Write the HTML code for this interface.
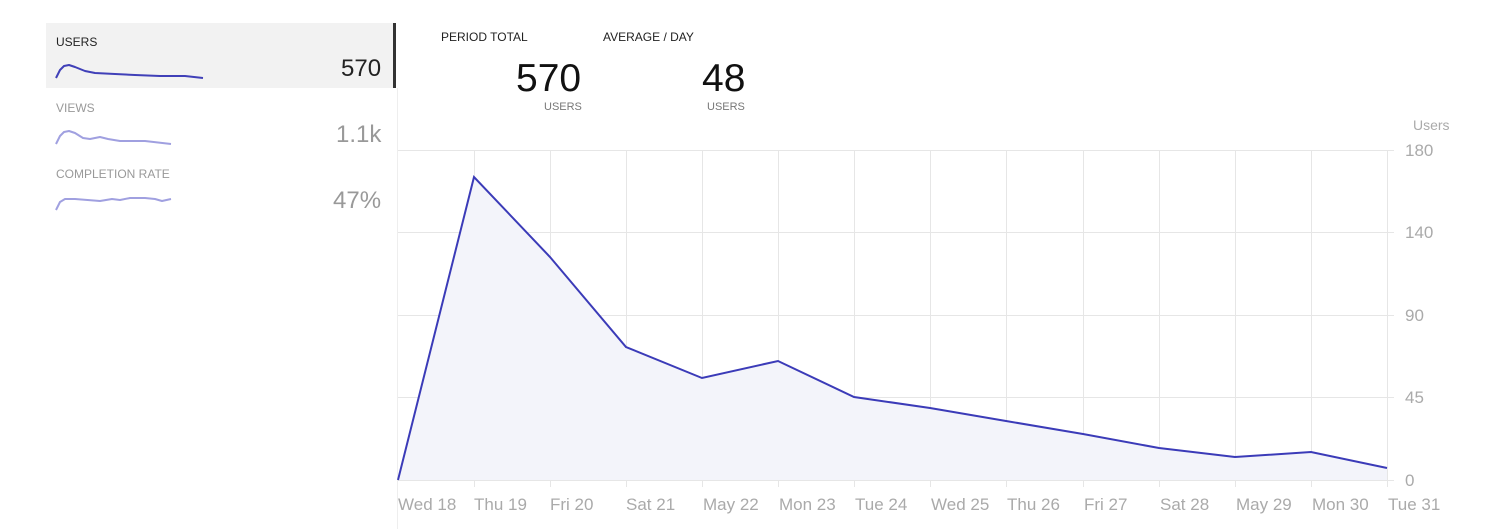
<!DOCTYPE html>
<html><head><style>
body{margin:0;width:1497px;height:529px;background:#fff;font-family:"Liberation Sans",sans-serif;position:relative;overflow:hidden}
.a{position:absolute;white-space:nowrap}
</style></head><body>
<div class="a" style="left:46px;top:23px;width:347px;height:65px;background:#f2f2f2"></div>
<div class="a" style="left:393px;top:23px;width:3px;height:65px;background:#333"></div>
<div class="a" style="left:397px;top:88px;width:1px;height:441px;background:#eee"></div>
<div class="a" style="left:56px;top:35px;font-size:12px;color:#222">USERS</div>
<div class="a" style="left:341px;top:55px;font-size:24px;color:#222">570</div>
<div class="a" style="left:56px;top:101px;font-size:12px;color:#999">VIEWS</div>
<div class="a" style="left:336px;top:121px;font-size:24px;color:#999">1.1k</div>
<div class="a" style="left:56px;top:167px;font-size:12px;color:#999">COMPLETION RATE</div>
<div class="a" style="left:333px;top:187px;font-size:24px;color:#999">47%</div>
<svg class="a" style="left:0;top:0" width="400" height="220">
<path d="M56,78 L60,70 L64,66 L69,65 L75,67 L85,71 L95,73 L115,74 L135,75 L160,76 L185,76 L203,78" fill="none" stroke="#4040b8" stroke-width="2" stroke-linejoin="round"/>
<path d="M56,144 L60,136 L64,132 L69,131 L75,133 L83,138 L90,139 L100,137 L108,139 L120,141 L145,141 L171,144" fill="none" stroke="#a0a0e0" stroke-width="2" stroke-linejoin="round"/>
<path d="M56,210 L60,202 L65,199 L75,199 L100,201 L112,199 L120,200 L130,198 L145,198 L155,199 L162,201 L171,199" fill="none" stroke="#a0a0e0" stroke-width="2" stroke-linejoin="round"/>
</svg>
<div class="a" style="left:441px;top:30px;font-size:12px;color:#222">PERIOD TOTAL</div>
<div class="a" style="left:603px;top:30px;font-size:12px;color:#222">AVERAGE / DAY</div>
<div class="a" style="left:516px;top:57px;font-size:39px;color:#111">570</div>
<div class="a" style="left:702px;top:57px;font-size:39px;color:#111">48</div>
<div class="a" style="left:544px;top:101px;font-size:11px;color:#777">USERS</div>
<div class="a" style="left:707px;top:101px;font-size:11px;color:#777">USERS</div>
<svg class="a" style="left:0;top:0" width="1497" height="529" font-family="Liberation Sans, sans-serif">
<g stroke="#e6e6e6" stroke-width="1">
<line x1="398" y1="150.5" x2="1394" y2="150.5"/><line x1="398" y1="232.5" x2="1394" y2="232.5"/>
<line x1="398" y1="315.5" x2="1394" y2="315.5"/><line x1="398" y1="397.5" x2="1394" y2="397.5"/>
<line x1="398" y1="480.5" x2="1394" y2="480.5"/>
<line x1="474.5" y1="150" x2="474.5" y2="487"/><line x1="550.5" y1="150" x2="550.5" y2="487"/>
<line x1="626.5" y1="150" x2="626.5" y2="487"/><line x1="702.5" y1="150" x2="702.5" y2="487"/>
<line x1="778.5" y1="150" x2="778.5" y2="487"/><line x1="854.5" y1="150" x2="854.5" y2="487"/>
<line x1="930.5" y1="150" x2="930.5" y2="487"/><line x1="1006.5" y1="150" x2="1006.5" y2="487"/>
<line x1="1083.5" y1="150" x2="1083.5" y2="487"/><line x1="1159.5" y1="150" x2="1159.5" y2="487"/>
<line x1="1235.5" y1="150" x2="1235.5" y2="487"/><line x1="1311.5" y1="150" x2="1311.5" y2="487"/>
<line x1="1387.5" y1="150" x2="1387.5" y2="487"/>
</g>
<path d="M398,480 L474,177 L550,257 L626,347 L702,378 L778,361 L854,397 L930,408 L1006,421 L1083,434 L1159,448 L1235,457 L1311,452 L1387,468 L1387,480 Z" fill="#f3f4fa"/>
<path d="M398,480 L474,177 L550,257 L626,347 L702,378 L778,361 L854,397 L930,408 L1006,421 L1083,434 L1159,448 L1235,457 L1311,452 L1387,468" fill="none" stroke="#3b3bb8" stroke-width="2"/>
<g fill="#aaa" font-size="17">
<text x="1405" y="156">180</text><text x="1405" y="238">140</text><text x="1405" y="321">90</text>
<text x="1405" y="403">45</text><text x="1405" y="486">0</text>
<text x="1413" y="130" font-size="14">Users</text>
</g>
<g fill="#aaa" font-size="17">
<text x="398" y="510">Wed 18</text><text x="474" y="510">Thu 19</text><text x="550" y="510">Fri 20</text>
<text x="626" y="510">Sat 21</text><text x="703" y="510">May 22</text><text x="779" y="510">Mon 23</text>
<text x="855" y="510">Tue 24</text><text x="931" y="510">Wed 25</text><text x="1007" y="510">Thu 26</text>
<text x="1084" y="510">Fri 27</text><text x="1160" y="510">Sat 28</text><text x="1236" y="510">May 29</text>
<text x="1312" y="510">Mon 30</text><text x="1388" y="510">Tue 31</text>
</g>
</svg>
</body></html>
